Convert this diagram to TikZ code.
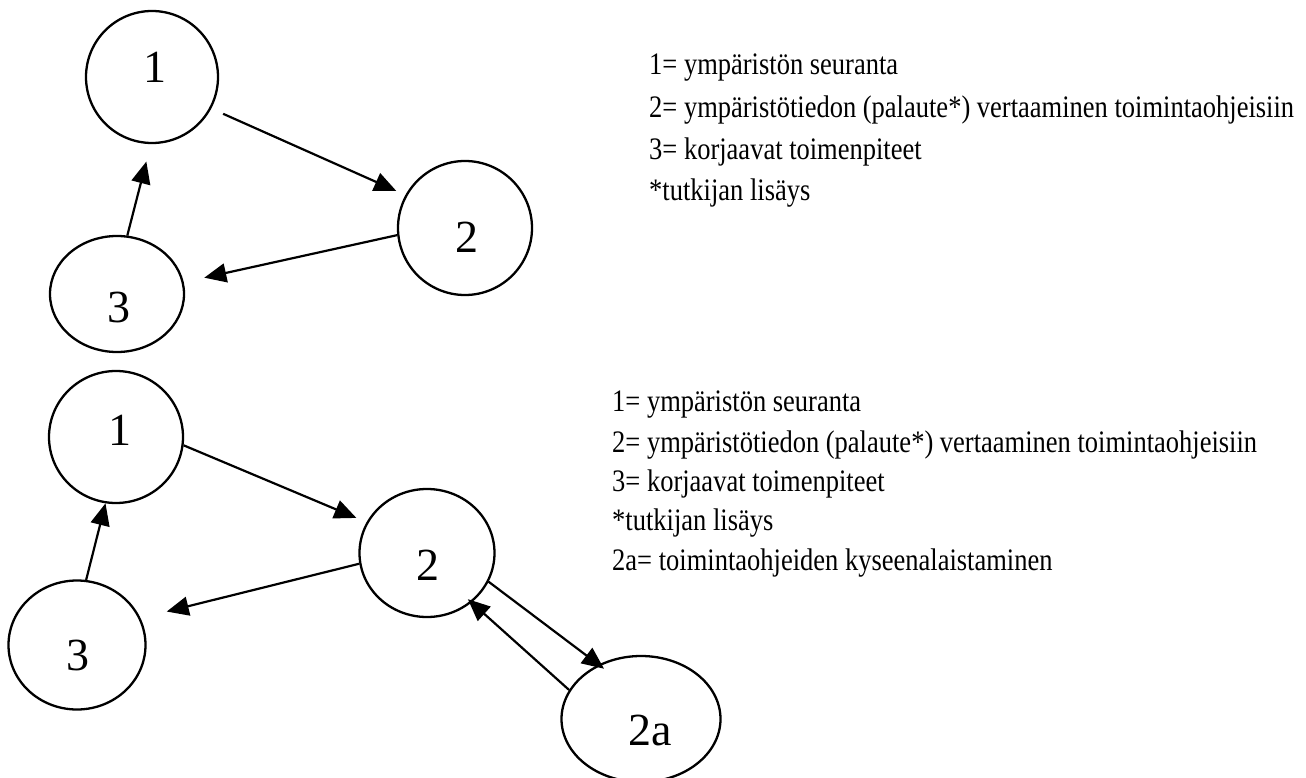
\documentclass[tikz,border=0pt]{standalone}
\usepackage{fontspec}
\usepackage{graphicx}
\setmainfont{Liberation Serif}
\usetikzlibrary{shapes.geometric,arrows.meta}
% legend lines are set slightly condensed (taller than wide)
\newcommand\legendline[1]{\scalebox{1}[1.18]{#1}}
\begin{document}
\begin{tikzpicture}[x=1pt,y=-1pt,
  state/.style={draw, ellipse, line width=2.3pt, inner sep=0pt},
  num/.style={font=\fontsize{46}{46}\selectfont, inner sep=0pt},
  legend/.style={font=\fontsize{26.5}{30}\selectfont, anchor=west, inner sep=0pt},
  arr/.style={line width=2.2pt, -{Triangle[length=22pt,width=19pt]}}]
\useasboundingbox (0,0) rectangle (1306,778);

% ---------- upper cycle: 1 -> 2 -> 3 -> 1 ----------
\node[state, minimum width=132pt, minimum height=132pt] (A1) at (152,77) {};
\node[state, minimum width=134pt, minimum height=134pt] (A2) at (465,228) {};
\node[state, minimum width=134pt, minimum height=116pt] (A3) at (117,294) {};
\node[num] (tA1) at (155,67) {1};
\node[num] (tA2) at (467,237) {2};
\node[num] (tA3) at (119,307) {3};

\draw[arr, shorten <=13pt, shorten >=10pt] (A1.-28) -- (A2.151);
\draw[arr, shorten >=21pt] (A2.186) -- (A3.10);
\draw[arr, shorten >=18pt] (A3.80) -- (A1.-91);

\node[legend] (kA1) at (649,68)  {\legendline{1= ympäristön seuranta}};
\node[legend] (kA2) at (649,110) {\legendline{2= ympäristötiedon (palaute*) vertaaminen toimintaohjeisiin}};
\node[legend] (kA3) at (649,152) {\legendline{3= korjaavat toimenpiteet}};
\node[legend] (kA4) at (649,193) {\legendline{*tutkijan lisäys}};

% ---------- lower cycle with the extra loop 2 <-> 2a ----------
\node[state, minimum width=134pt, minimum height=132pt] (B1) at (116,437) {};
\node[state, minimum width=135pt, minimum height=128pt] (B2) at (427,553) {};
\node[state, minimum width=137pt, minimum height=129pt] (B3) at (77,645) {};
\node[state, minimum width=159pt, minimum height=126pt] (B2a) at (641,719) {};
\node[num] (tB1) at (120,430) {1};
\node[num] (tB2) at (428,565) {2};
\node[num] (tB3) at (78,655) {3};
\node[num] (tB2a) at (650,730) {2a};

\draw[arr, shorten >=11pt] (B1.-7.5) -- (B2.153);
\draw[arr, shorten >=27pt] (B2.189) -- (B3.23);
\draw[arr] (B3.82) -- (B1.-99.5);
\draw[arr, shorten >=-7pt] (B2.-25) -- (B2a.128);
\draw[arr, shorten >=-5pt] (B2a.158.6) -- (B2.-48);

\node[legend] (kB1) at (612,405) {\legendline{1= ympäristön seuranta}};
\node[legend] (kB2) at (612,445) {\legendline{2= ympäristötiedon (palaute*) vertaaminen toimintaohjeisiin}};
\node[legend] (kB3) at (612,484) {\legendline{3= korjaavat toimenpiteet}};
\node[legend] (kB4) at (612,523) {\legendline{*tutkijan lisäys}};
\node[legend] (kB5) at (612,563) {\legendline{2a= toimintaohjeiden kyseenalaistaminen}};
\end{tikzpicture}
\end{document}
